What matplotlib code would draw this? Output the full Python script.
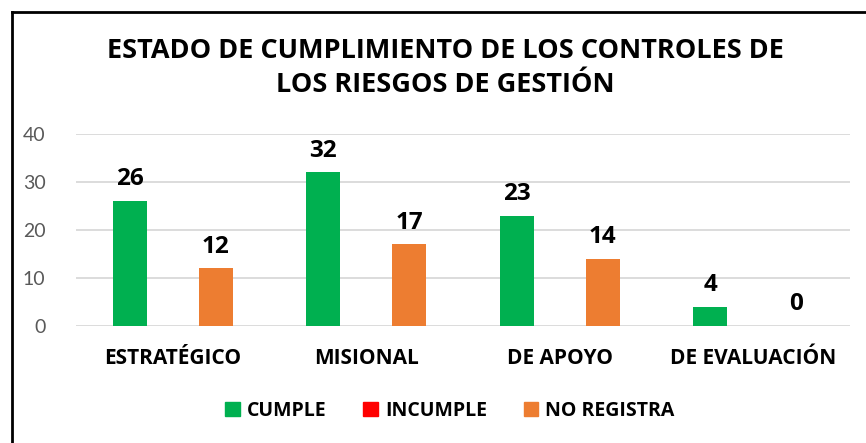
import matplotlib
matplotlib.use("Agg")
import matplotlib.pyplot as plt
import numpy as np
from matplotlib.lines import Line2D
from matplotlib.patches import Patch

categories = ["ESTRATÉGICO", "MISIONAL", "DE APOYO", "DE EVALUACIÓN"]
cumple = [26, 32, 23, 4]
incumple = [0, 0, 0, 0]
no_registra = [12, 17, 14, 0]
yticks = [0, 10, 20, 30, 40]

green = "#00b050"
red = "#ff0000"
orange = "#ed7d31"

plt.rcParams["font.family"] = ["Open Sans", "DejaVu Sans"]

W, H = 866, 443
fig = plt.figure(figsize=(W / 100, H / 100), dpi=100)
ax = fig.add_axes([76 / W, 117 / H, (850 - 76) / W, (326 - 134) / H])

x = np.arange(len(categories))
off = 0.222
bw = 0.176
b1 = ax.bar(x - off, cumple, bw, color=green, label="CUMPLE")
b2 = ax.bar(x, incumple, bw, color=red, label="INCUMPLE")
b3 = ax.bar(x + off, no_registra, bw, color=orange, label="NO REGISTRA")

for bars, vals in ((b1, cumple), (b3, no_registra)):
    for b, v in zip(bars, vals):
        ax.annotate(str(v), (b.get_x() + b.get_width() / 2, v),
                    xytext=(0, 7), textcoords="offset points",
                    ha="center", va="bottom", fontsize=17.5, fontweight="bold")

ax.set_xlim(-0.5, len(categories) - 0.5)
ax.set_ylim(0, 40)
ax.set_yticks(yticks)
ax.set_xticks(x)
ax.set_xticklabels(categories, fontsize=15, fontweight="bold")
ax.tick_params(axis="x", length=0, pad=16)
ax.tick_params(axis="y", length=0, pad=22, labelsize=13, labelcolor="#595959")
for t in ax.get_yticklabels():
    t.set_family(["Lato", "DejaVu Sans"])
    t.set_fontsize(14)
ax.grid(axis="y", color="#d9d9d9", linewidth=1.3)
ax.set_axisbelow(True)
for s in ax.spines.values():
    s.set_visible(False)

fig.text(445 / W, 1 - 68 / H, "ESTADO DE CUMPLIMIENTO DE LOS CONTROLES DE\nLOS RIESGOS DE GESTIÓN",
         ha="center", va="center", fontsize=19.5, fontweight="bold", linespacing=1.4)

handles = [Patch(color=green), Patch(color=red), Patch(color=orange)]
fig.legend(handles, ["CUMPLE", "INCUMPLE", "NO REGISTRA"], loc="center",
           bbox_to_anchor=(450 / W, 1 - 411 / H), ncol=3, frameon=False,
           prop={"size": 14, "weight": "bold"}, handlelength=0.75, handleheight=0.75,
           handletextpad=0.35, columnspacing=1.9)

# outer frame (top and left only visible)
fig.add_artist(Line2D([12 / W, 12 / W], [0, 1 - 12 / H], color="black", lw=2, transform=fig.transFigure))
fig.add_artist(Line2D([12 / W, 1], [1 - 12 / H, 1 - 12 / H], color="black", lw=2, transform=fig.transFigure))

fig.savefig("out.png", dpi=100)
